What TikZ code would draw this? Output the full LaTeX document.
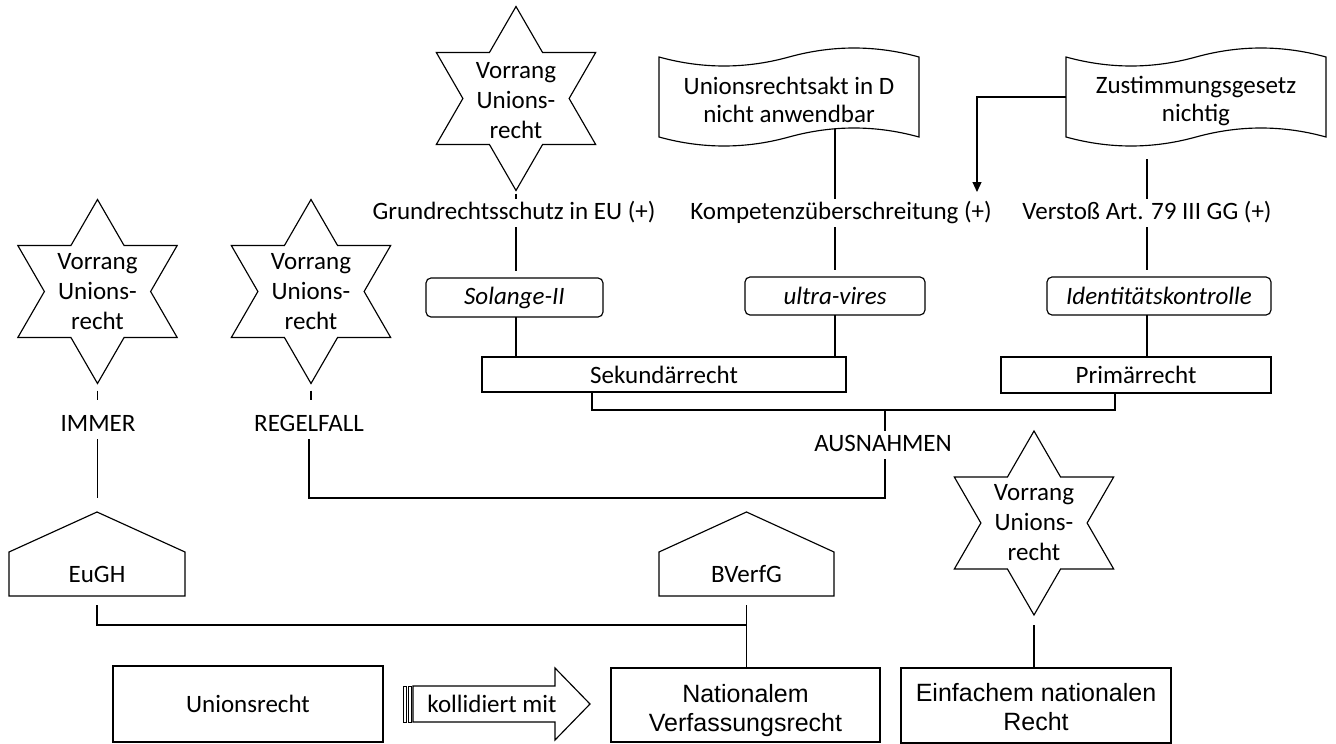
\documentclass[tikz,border=0pt]{standalone}
\usepackage{fontspec}
\setmainfont{Carlito}
\newfontfamily\arialf{Liberation Sans}
\usetikzlibrary{shapes.geometric,calc,arrows.meta}
\newcommand\tapeoutline[1]{%
\draw[ln] (#1.north west)
 .. controls ($(#1.north west)!0.1667!(#1.north east)+(0,12)$) and ($(#1.north west)!0.3333!(#1.north east)+(0,12)$) .. (#1.north)
 .. controls ($(#1.north west)!0.6667!(#1.north east)+(0,-12)$) and ($(#1.north west)!0.8333!(#1.north east)+(0,-12)$) .. (#1.north east)
 -- (#1.south east)
 .. controls ($(#1.south west)!0.8333!(#1.south east)+(0,-12)$) and ($(#1.south west)!0.6667!(#1.south east)+(0,-12)$) .. (#1.south)
 .. controls ($(#1.south west)!0.3333!(#1.south east)+(0,12)$) and ($(#1.south west)!0.1667!(#1.south east)+(0,12)$) .. (#1.south west)
 -- cycle;}
\newcommand\houseoutline[1]{%
\draw[ln] (#1.south west) -- (#1.north west) -- ($(#1.north)+(0,-40)$) -- (#1.north east) -- (#1.south east) -- cycle;}
\begin{document}
\begin{tikzpicture}[x=1pt,y=-1pt,
  every node/.style={font=\fontsize{25}{30}\selectfont},
  ln/.style={line width=1.15pt},
  lbl/.style={inner xsep=0pt, inner ysep=3pt, text height=17pt, text depth=5pt},
  hstar/.style={star, star points=6, star point ratio=1.732, minimum size=184pt, inner sep=0pt, outer sep=0pt, draw, line width=1.15pt},
  startext/.style={align=center, inner sep=0pt},
  rbox/.style={draw, line width=1.15pt, rounded corners=5pt, inner sep=0pt, outer sep=0pt},
  box/.style={draw, line width=1.15pt, inner sep=0pt, outer sep=0pt},
  tape/.style={inner sep=0pt, outer sep=0pt},
  tapetext/.style={inner sep=0pt, align=center, font=\fontsize{25}{28}\selectfont},
  house/.style={inner sep=0pt, outer sep=0pt},
  sanstext/.style={inner sep=0pt, align=center, font=\arialf\fontsize{25}{29}\selectfont},
]
\useasboundingbox (0,0) rectangle (1336,744);

% stars
\node[hstar] (s1) at (516,98.5) {};
\node[startext] (s1t) at ($(s1)+(0,2)$) {Vorrang\\Unions-\\recht};
\node[hstar] (s2) at (97.5,291.5) {};
\node[startext] (s2t) at (s2) {Vorrang\\Unions-\\recht};
\node[hstar] (s3) at (311,291.5) {};
\node[startext] (s3t) at (s3) {Vorrang\\Unions-\\recht};
\node[hstar] (s4) at (1034,523) {};
\node[startext] (s4t) at (s4) {Vorrang\\Unions-\\recht};

% tapes
\node[tape, minimum width=260pt, minimum height=80pt] (doc1) at (789,97) {};
\tapeoutline{doc1}
\node[tapetext] (doc1t) at ($(doc1)+(0,3)$) {Unionsrechtsakt in D\\nicht anwendbar};
\node[tape, minimum width=260pt, minimum height=80pt] (doc2) at (1196,97) {};
\tapeoutline{doc2}
\node[tapetext] (doc2t) at ($(doc2)+(0,4)$) {Zustimmungsgesetz\\nichtig};

% labels
\node[lbl] (grund) at (514,213) {Grundrechtsschutz in EU (+)};
\node[lbl] (komp) at (841,213) {Kompetenzüberschreitung (+)};
\node[lbl] (ver) at (1147,213) {Verstoß Art. 79 III GG (+)};
\node[lbl] (immer) at (98,425) {IMMER};
\node[lbl] (regel) at (309,425) {REGELFALL};
\node[lbl] (ausn) at (883,445) {AUSNAHMEN};

% boxes
\node[rbox, minimum width=177pt, minimum height=39pt] (sol) at (514.5,297.5) {\itshape Solange-II};
\node[rbox, minimum width=180pt, minimum height=38pt] (uv) at (835,296) {\itshape ultra-vires};
\node[rbox, minimum width=224pt, minimum height=38pt] (id) at (1159,296) {\itshape Identitätskontrolle};
\node[box, minimum width=364pt, minimum height=35pt] (sek) at (664,374.5) {Sekundärrecht};
\node[box, minimum width=270pt, minimum height=36pt] (pri) at (1136,375) {Primärrecht};

% courts
\node[house, minimum width=176pt, minimum height=44pt] (eugh) at (97,574) {EuGH};
\houseoutline{eugh}
\coordinate (eughtop) at ($(eugh.north)+(0,-40)$);
\node[house, minimum width=175pt, minimum height=44pt] (bverfg) at (746.5,574) {BVerfG};
\houseoutline{bverfg}

% bottom row
\node[box, minimum width=270pt, minimum height=76pt] (union) at (248,704) {Unionsrecht};
\node[box, minimum width=269pt, minimum height=74pt] (nat) at (745.5,705) {};
\node[sanstext] (natt) at ($(nat)+(0,5.5)$) {Nationalem\\Verfassungsrecht};
\node[box, minimum width=270pt, minimum height=75pt] (ein) at (1036,705.5) {};
\node[sanstext] (eint) at ($(ein)+(0,2)$) {Einfachem nationalen\\Recht};

% striped arrow
\draw[line width=0.8pt] (403,686) rectangle (406,722);
\draw[line width=0.8pt] (408,686) rectangle (411,722);
\draw[ln, line join=miter] (413,686) -- (555,686) -- (555,668) -- (590,704) -- (555,740) -- (555,722) -- (413,722) -- cycle;
\node (koll) at (492,704) {kollidiert mit};

% connectors top
\draw[ln, shorten <=3pt] (s1.south) -- (s1.south |- grund.north);
\draw[ln, shorten >=7pt] (s1.south |- grund.south) -- (s1.south |- sol.north);
\draw[ln] (s1.south |- sol.south) -- (s1.south |- sek.north);

\coordinate (d1b) at (835,129);
\draw[ln] (d1b) -- (d1b |- komp.north);
\draw[ln, shorten >=7pt] (d1b |- komp.south) -- (d1b |- uv.north);
\draw[ln] (d1b |- uv.south) -- (d1b |- sek.north);

\draw[ln, shorten <=22pt] (ver.north |- doc2.south) -- (ver.north);
\draw[ln, shorten >=7pt] (ver.south) -- (ver.south |- id.north);
\draw[ln] (ver.south |- id.south) -- (ver.south |- pri.north);

\coordinate (arrT) at (977,192);
\draw[ln, -{Triangle[length=10pt,width=9pt]}] (doc2.west) -| (arrT);

% bracket
\coordinate (sekB) at ($(sek.south west)!0.302!(sek.south east)$);
\coordinate (priB) at ($(pri.south west)!0.422!(pri.south east)$);
\coordinate (hb) at (885,410);
\draw[ln] (sekB) |- (hb) -| (priB);
\draw[ln] (hb) -- (hb |- ausn.north);
\coordinate (c2) at (885,498);
\draw[ln] (hb |- ausn.south) -- (c2) -| (regel.south);

% left stars
\draw[ln, shorten <=7pt, shorten >=11pt] (s2.south) -- (s2.south |- immer.north);
\draw[ln, shorten >=14pt] (s2.south |- immer.south) -- (s2.south |- eughtop);
\draw[ln, shorten <=7pt, shorten >=11pt] (s3.south) -- (s3.south |- regel.north);

% courts lines
\coordinate (join) at ($(bverfg.south)+(0,29)$);
\draw[ln, shorten <=9pt] (eugh.south) |- (join);
\draw[ln, shorten <=9pt] (bverfg.south) -- (bverfg.south |- nat.north);

\draw[ln, shorten <=10pt] (s4.south) -- (s4.south |- ein.north);
\end{tikzpicture}
\end{document}
